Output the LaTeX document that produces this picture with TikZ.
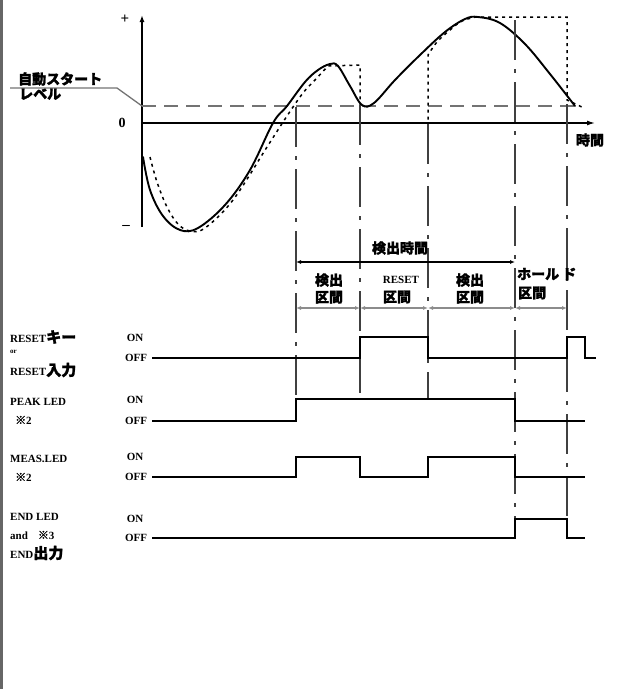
\documentclass[tikz,border=0pt]{standalone}
\usepackage{fontspec}
\setmainfont{Liberation Serif}
\newfontfamily\jp{Noto Sans CJK JP}[FakeBold=1.6]
\usetikzlibrary{arrows.meta}

\begin{document}
\begin{tikzpicture}[x=1pt, y=-1pt, font=\fontsize{11}{12}\selectfont\bfseries,
  wave/.style={line width=1.6pt, line join=miter},
  sig/.style={line width=1.9pt, line cap=round},
  hold/.style={line width=1.5pt, dash pattern=on 3pt off 4pt},
  level/.style={draw=black!55, line width=1.3pt, dash pattern=on 14pt off 8pt},
  guide/.style={draw=black!75, line width=1.6pt, dash pattern=on 40pt off 9pt on 4pt off 9pt},
  span/.style={{Latex[length=5pt, width=4pt]}-{Latex[length=5pt, width=4pt]}, line width=1.1pt},
  lab/.style={inner sep=0pt, anchor=west},
  jlab/.style={font=\jp\bfseries\fontsize{14}{17}\selectfont, inner sep=0pt, align=center}]
  \useasboundingbox (0,0) rectangle (619,689);
  \draw[black!60, line width=3pt] (1.5,0) -- (1.5,689);
  % axes
  \draw[line width=1.5pt, -{Latex[length=7pt, width=5pt]}] (142,227) -- (142,15);
  \draw[line width=1.3pt, -{Latex[length=8pt, width=5pt]}] (142,123) -- (595,123);
  \node[font=\fontsize{15}{16}\selectfont\bfseries] (plus) at (125,19) {+};
  \node[font=\fontsize{14}{15}\selectfont\bfseries] (zero) at (122,123) {0};
  \node[font=\fontsize{15}{16}\selectfont\bfseries] (minus) at (126,227) {--};
  \node[jlab] (time) at (590,140) {時間};
  % start level
  \node[jlab, anchor=west] (lvl1) at (18,79) {自動スタート};
  \node[jlab, anchor=west] (lvl2) at (19,94) {レベル};
  \draw[black!55, line width=1.3pt] (10,88) -- (117,88) -- (142,106);
  \draw[level] (142,106) -- (580,106);
  % input signal and peak hold
  \draw[sig] plot[smooth, tension=0.6] coordinates {(143,157) (150,190) (163,216) (180,230)
    (198,228) (225,205) (250,170) (273,123) (287,106) (305,82) (318,70) (330,64) (338,66)
    (350,86) (362,105) (374,103) (395,80) (420,55) (445,32) (465,19) (478,17)
    (500,23) (525,44) (550,74) (575,106)};
  \draw[hold] plot[smooth, tension=0.6] coordinates {(150,157) (157,182) (167,207) (178,224)
    (190,231) (205,228) (233,200) (267,147) (287,116) (303,93) (315,80) (328,66)}
    -- (360,65) -- (360,123) -- (428,123) -- (428,55)
    -- plot[smooth, tension=0.6] coordinates {(428,55) (437,42) (450,30) (462,21) (476,17)}
    -- (567,17) -- (567,100) -- (584,108);
  % guide lines
  \draw[guide] (296,107) -- (296,420);
  \draw[guide] (360,105) -- (360,399);
  \draw[guide] (428,124) -- (428,399);
  \draw[guide] (515,20) -- (515,538);
  \draw[guide] (567,104) -- (567,519);
  % intervals
  \draw[span] (296,262) -- (515,262);
  \node[jlab] (tdet) at (400,248) {検出時間};
  \draw[span, black!45] (296,308) -- (360,308);
  \draw[span, black!45] (360,308) -- (428,308);
  \draw[span, black!45] (428,308) -- (515,308);
  \draw[span, black!45] (515,308) -- (567,308);
  \node[jlab] (det1) at (329,288.5) {検出\\区間};
  \node[inner sep=0pt] (rst1) at (401,280) {RESET};
  \node[jlab] (rst2) at (397,297) {区間};
  \node[jlab] (det2) at (470,288.5) {検出\\区間};
  \node[jlab, anchor=west] (hld1) at (517,274) {ホール\hspace{3pt}ド};
  \node[jlab, anchor=west] (hld2) at (518,293) {区間};
  % reset key
  \node[lab] (rkey) at (10,337) {RESET{\jp\fontsize{15}{16}\selectfont キー}};
  \node[lab, font=\fontsize{7}{8}\selectfont\bfseries] (ror) at (10,352) {or};
  \node[lab] (rin) at (10,370) {RESET{\jp\fontsize{15}{16}\selectfont 入力}};
  \node (ron) at (135,338) {ON};
  \node (roff) at (136,358) {OFF};
  \draw[wave] (152,358) -- (360,358) -- (360,337) -- (428,337) -- (428,358) -- (567,358)
    -- (567,337) -- (585,337) -- (585,358) -- (596,358);
  % peak led
  \node[lab] (pled) at (10,402) {PEAK LED};
  \node[lab] (pnote) at (15,420) {{\jp ※}2};
  \node (pon) at (135,400) {ON};
  \node (poff) at (136,421) {OFF};
  \draw[wave] (152,421) -- (296,421) -- (296,399) -- (515,399) -- (515,421) -- (585,421);
  % meas led
  \node[lab] (mled) at (10,459) {MEAS.LED};
  \node[lab] (mnote) at (15,477) {{\jp ※}2};
  \node (mon) at (135,457) {ON};
  \node (moff) at (136,477) {OFF};
  \draw[wave] (152,477) -- (296,477) -- (296,457) -- (360,457) -- (360,477) -- (428,477)
    -- (428,457) -- (515,457) -- (515,477) -- (585,477);
  % end led
  \node[lab] (eled) at (10,517) {END LED};
  \node[lab] (enote) at (10,535) {and\hspace{10pt}{\jp ※}3};
  \node[lab] (eout) at (10,553) {END{\jp\fontsize{15}{16}\selectfont 出力}};
  \node (eon) at (135,519) {ON};
  \node (eoff) at (136,538) {OFF};
  \draw[wave] (152,538) -- (515,538) -- (515,519) -- (567,519) -- (567,538) -- (585,538);
\end{tikzpicture}
\end{document}
